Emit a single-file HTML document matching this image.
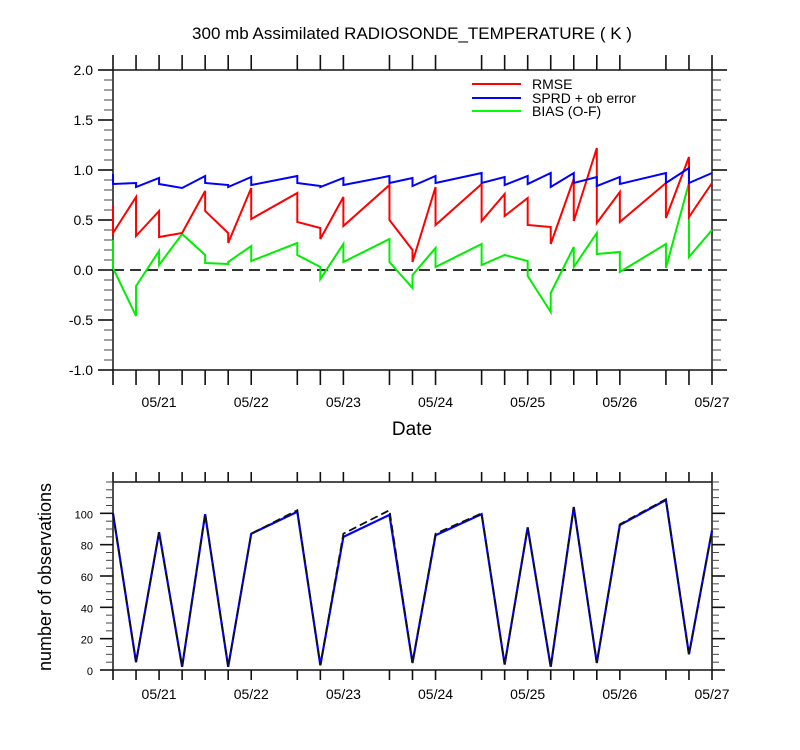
<!DOCTYPE html>
<html><head><meta charset="utf-8">
<style>
html,body{margin:0;padding:0;background:#fff;}
svg{display:block;font-family:"Liberation Sans",Arial,sans-serif;}
</style></head>
<body>
<svg id="chart" width="800" height="750" viewBox="0 0 800 750" xmlns="http://www.w3.org/2000/svg">
<text x="412" y="39" font-size="17" text-anchor="middle" fill="#000">300 mb Assimilated RADIOSONDE_TEMPERATURE ( K )</text>
<text x="412" y="435" font-size="19" text-anchor="middle" fill="#000">Date</text>
<text x="0" y="0" font-size="18" text-anchor="middle" fill="#000" transform="translate(51,577) rotate(-90)">number of observations</text>
<g id="topPanel"></g>
<g id="botPanel"></g>
<g>
  <line x1="472" y1="84" x2="521" y2="84" stroke="#ff0000" stroke-width="2"/>
  <text x="532" y="89" font-size="14">RMSE</text>
  <line x1="472" y1="98" x2="521" y2="98" stroke="#0000ff" stroke-width="2"/>
  <text x="532" y="103" font-size="14">SPRD + ob error</text>
  <line x1="472" y1="111" x2="521" y2="111" stroke="#00ff00" stroke-width="2"/>
  <text x="532" y="116" font-size="14">BIAS (O-F)</text>
</g>
</svg>
<script>
// time steps (6-hourly index from 05/20 12Z)
const times = [0,1,2,3,4,5,6,8,9,10,12,13,14,16,17,18,19,20,21,22,24,25,26];
const dateLabels = ["05/21","05/22","05/23","05/24","05/25","05/26","05/27"];
const dateIdx = [2,6,10,14,18,22,26];
const rmsePre  = [0.65,0.73,0.59,0.37,0.79,0.37,0.82,0.77,0.42,0.73,0.85,0.20,0.83,0.86,0.76,0.72,0.43,0.91,1.22,0.78,0.87,1.13,0.87];
const rmsePost = [0.37,0.34,0.33,0.37,0.59,0.27,0.51,0.48,0.31,0.44,0.50,0.08,0.45,0.49,0.54,0.45,0.26,0.49,0.47,0.48,0.52,0.53,0.87];
const sprdPre  = [0.96,0.87,0.92,0.82,0.94,0.85,0.93,0.94,0.84,0.92,0.94,0.92,0.94,0.97,0.93,0.94,0.97,0.97,0.93,0.93,0.97,1.02,0.97];
const sprdPost = [0.86,0.83,0.86,0.82,0.87,0.83,0.85,0.87,0.83,0.85,0.87,0.84,0.87,0.87,0.85,0.86,0.83,0.87,0.84,0.86,0.87,0.87,0.97];
const biasPre  = [0.30,-0.46,0.19,0.36,0.15,0.06,0.24,0.27,0.03,0.26,0.31,-0.18,0.22,0.26,0.15,0.09,-0.42,0.23,0.37,0.18,0.26,0.87,0.40];
const biasPost = [0.02,-0.16,0.05,0.36,0.07,0.08,0.09,0.15,-0.09,0.08,0.08,-0.05,0.03,0.05,0.15,-0.06,-0.23,0.03,0.16,-0.02,0.02,0.13,0.40];
const obsAssim = [100,5,88,2,99.5,2,87,101,3,85,99,4.5,86,99.5,3.5,91,2,104,4.5,92.5,108.5,10,89];
const obsTotal = [100,5,88,2,99.5,2,87,102,3,87,102,4.5,87,100,3.5,91,2,104,4.5,93,109,10,89];
const topTicks = [-1.0,-0.5,0.0,0.5,1.0,1.5,2.0];
const botTicks = [0,20,40,60,80,100];

const NS="http://www.w3.org/2000/svg";
const X0=113,X1=712,T0=0,T1=26;
const xs=t=>X0+(t-T0)/(T1-T0)*(X1-X0);
const yTop=v=>370-(v+1)/3*300;
const yBot=v=>670-v/120*188;
function mk(parent,tag,attrs){const e=document.createElementNS(NS,tag);for(const k in attrs)e.setAttribute(k,attrs[k]);parent.appendChild(e);return e;}
const topG=document.getElementById('topPanel'),botG=document.getElementById('botPanel');

function frame(g,yt,yb,yScale,majors,minorStep,lo,hi,fmt,name,labelSize,xl,yl,ym,lab){
  const ax=mk(g,'g',{});
  
  
  mk(ax,'rect',{x:X0,y:yt,width:X1-X0,height:yb-yt,fill:'none',stroke:'#222','stroke-width':1.6});
  times.forEach(t=>{const x=xs(t);
    mk(ax,'line',{x1:x,y1:yb,x2:x,y2:yb+xl,stroke:'#111','stroke-width':1.6});
    mk(ax,'line',{x1:x,y1:yt,x2:x,y2:yt-xl,stroke:'#111','stroke-width':1.6});});
  for(let v=lo;v<=hi+1e-6;v+=minorStep){const y=yScale(v);
    mk(ax,'line',{x1:X0-ym,y1:y,x2:X0,y2:y,stroke:'#444','stroke-width':1});
    mk(ax,'line',{x1:X1,y1:y,x2:X1+ym,y2:y,stroke:'#444','stroke-width':1});}
  majors.forEach(v=>{const y=yScale(v);
    mk(ax,'line',{x1:X0-yl,y1:y,x2:X0,y2:y,stroke:'#111','stroke-width':1.6});
    mk(ax,'line',{x1:X1,y1:y,x2:X1+yl,y2:y,stroke:'#111','stroke-width':1.6});
    const tx=mk(ax,'text',{x:X0-20,y:y+5,'font-size':labelSize,'text-anchor':'end'});
    
    
    tx.textContent=fmt(v);});
  dateLabels.forEach((s,i)=>{const tx=mk(ax,'text',{x:xs(dateIdx[i]),y:yb+lab,'font-size':14,'text-anchor':'middle'});
    
    
    tx.textContent=s;});
}
frame(topG,70,370,yTop,topTicks,0.1,-1,2,v=>v.toFixed(1),'top',14,15,15,9,37);
frame(botG,482,670,yBot,botTicks,5,0,120,v=>String(v),'bottom',11,10,13,7,29);

const zl=mk(topG,'line',{x1:X0,y1:yTop(0),x2:X1,y2:yTop(0),stroke:'#333','stroke-width':2,'stroke-dasharray':'11 6'});



function stepPath(pre,post,ys){let d='';times.forEach((t,i)=>{const x=xs(t);d+=(i?'L':'M')+x+' '+ys(pre[i])+'L'+x+' '+ys(post[i]);});return d;}
function linePath(vals,ys){return times.map((t,i)=>(i?'L':'M')+xs(t)+' '+ys(vals[i])).join('');}

let p=mk(topG,'path',{d:stepPath(biasPre,biasPost,yTop),fill:'none',stroke:'#00ee00','stroke-width':2});


p=mk(topG,'path',{d:stepPath(rmsePre,rmsePost,yTop),fill:'none',stroke:'#ff0000','stroke-width':2});


p=mk(topG,'path',{d:stepPath(sprdPre,sprdPost,yTop),fill:'none',stroke:'#0000ff','stroke-width':2});



p=mk(botG,'path',{d:linePath(obsAssim,yBot),fill:'none',stroke:'#0000ff','stroke-width':2.2});


p=mk(botG,'path',{d:linePath(obsTotal,yBot),fill:'none',stroke:'#111','stroke-width':1.8,'stroke-dasharray':'8 4'});


</script>
</body></html>
